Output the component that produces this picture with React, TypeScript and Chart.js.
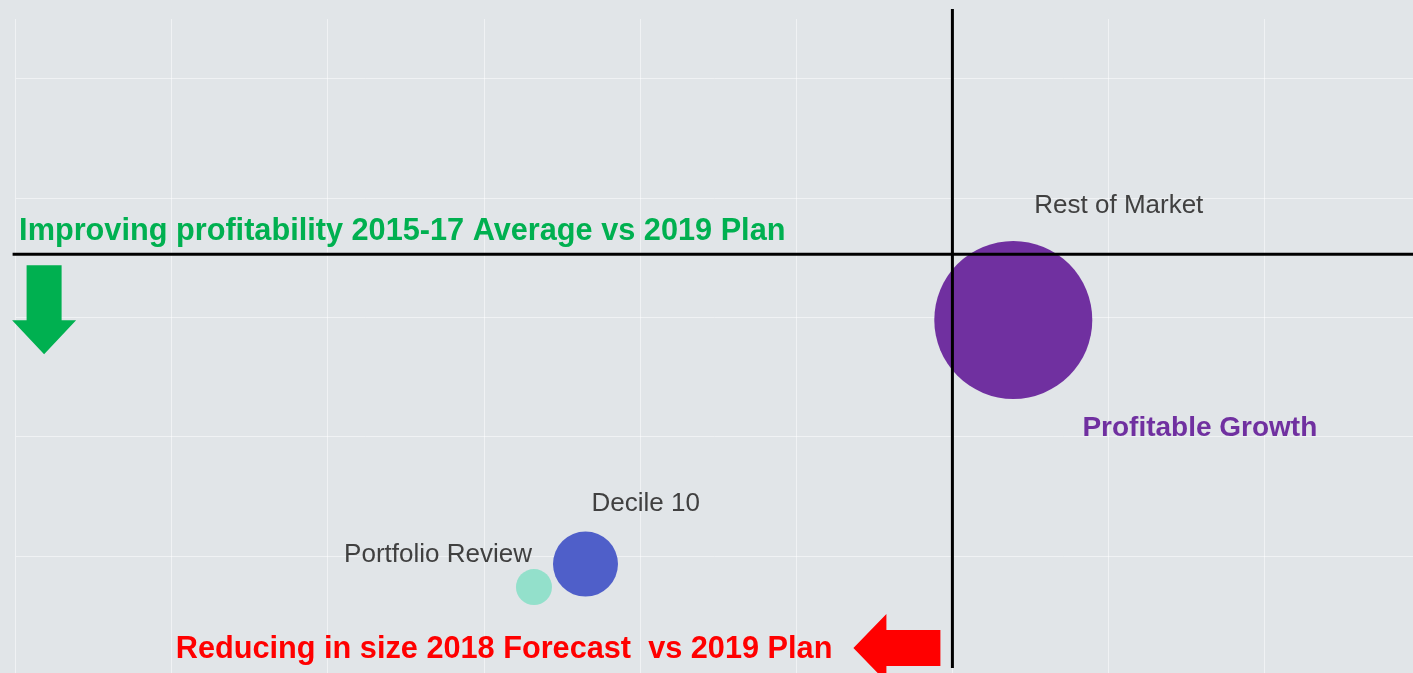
import React, { useEffect, useRef } from "react";
import { Chart, registerables } from "chart.js";

Chart.register(...registerables);

// ---- data ----
const seriesNames = ["Rest of Market", "Decile 10", "Portfolio Review"];
const sizeChange = [0.39, -2.35, -2.68]; // x: reducing in size (2018 Forecast vs 2019 Plan)
const profitChange = [-0.52, -2.565, -2.757]; // y: improving profitability (2015-17 Avg vs 2019 Plan)
const bubbleRadius = [79, 32.5, 18];
const seriesColors = ["#7030a0", "#4f5fc9", "#93e0cb"];

const xTickValues = [-6, -5, -4, -3, -2, -1, 0, 1, 2];
const yTickValues = [1.5, 0.5, -0.5, -1.5, -2.5];
const xRange = [-6, 2.95];
const yRange = [-3.477, 2.0];
const crossX = 0;
const crossY = 0.03;

const profitHeadline = "Improving profitability 2015-17 Average vs 2019 Plan";
const sizeHeadline = "Reducing in size 2018 Forecast  vs 2019 Plan";
const quadrantLabel = "Profitable Growth";

// label placement relative to each bubble: [dx, extra gap above bubble, align]
const labelPlacement: [number, number, CanvasTextAlign][] = [
  [21, 28, "left"],
  [6, 21, "left"],
  [-2, 7, "right"],
];

const FONT = "'Liberation Sans', Arial, sans-serif";

const overlayPlugin = {
  id: "overlay",
  beforeDraw(chart: any) {
    const ctx = chart.ctx;
    ctx.save();
    ctx.fillStyle = "#e1e5e8";
    ctx.fillRect(0, 0, chart.width, chart.height);
    ctx.restore();
  },
  afterDatasetsDraw(chart: any) {
    const ctx: CanvasRenderingContext2D = chart.ctx;
    const xs = chart.scales.x;
    const ys = chart.scales.y;
    const area = chart.chartArea;
    const cx = xs.getPixelForValue(crossX);
    const cy = ys.getPixelForValue(crossY);
    ctx.save();

    // quadrant cross lines
    ctx.strokeStyle = "#000000";
    ctx.lineWidth = 3;
    ctx.beginPath();
    ctx.moveTo(area.left - 3, cy);
    ctx.lineTo(chart.width, cy);
    ctx.stroke();
    ctx.beginPath();
    ctx.moveTo(cx, area.top - 10);
    ctx.lineTo(cx, area.bottom - 5);
    ctx.stroke();

    // bubble labels
    ctx.font = `26px ${FONT}`;
    ctx.fillStyle = "#404040";
    ctx.textBaseline = "alphabetic";
    chart.data.datasets.forEach((ds: any, i: number) => {
      const el = chart.getDatasetMeta(i).data[0];
      if (!el) return;
      const [dx, gap, align] = labelPlacement[i];
      const r = ds.data[0].r;
      ctx.textAlign = align;
      ctx.fillText(ds.label, el.x + dx, el.y - r - gap);
    });

    // green headline + down arrow
    ctx.font = `bold 30.7px ${FONT}`;
    ctx.fillStyle = "#00b050";
    ctx.textAlign = "left";
    ctx.fillText(profitHeadline, area.left + 3.5, cy - 14);
    const ax = area.left + 28.5;
    ctx.beginPath();
    ctx.moveTo(ax - 17.5, cy + 11);
    ctx.lineTo(ax + 17.5, cy + 11);
    ctx.lineTo(ax + 17.5, cy + 66);
    ctx.lineTo(ax + 32, cy + 66);
    ctx.lineTo(ax, cy + 100);
    ctx.lineTo(ax - 32, cy + 66);
    ctx.lineTo(ax - 17.5, cy + 66);
    ctx.closePath();
    ctx.fill();

    // red headline + left arrow
    const ry = area.bottom - 25;
    ctx.fillStyle = "#ff0000";
    ctx.textAlign = "right";
    ctx.fillText(sizeHeadline, cx - 120, area.bottom - 15);
    ctx.beginPath();
    ctx.moveTo(cx - 12, ry - 18);
    ctx.lineTo(cx - 12, ry + 18);
    ctx.lineTo(cx - 66, ry + 18);
    ctx.lineTo(cx - 66, ry + 34);
    ctx.lineTo(cx - 99, ry);
    ctx.lineTo(cx - 66, ry - 34);
    ctx.lineTo(cx - 66, ry - 18);
    ctx.closePath();
    ctx.fill();

    // quadrant label
    ctx.font = `bold 28px ${FONT}`;
    ctx.fillStyle = "#7030a0";
    ctx.textAlign = "left";
    ctx.fillText(quadrantLabel, cx + 130, cy + 182);

    ctx.restore();
  },
};

export default function App() {
  const ref = useRef<HTMLCanvasElement>(null);

  useEffect(() => {
    document.body.style.margin = "0";
    const canvas = ref.current;
    if (!canvas) return;
    const chart = new Chart(canvas, {
      type: "bubble",
      data: {
        datasets: seriesNames.map((name, i) => ({
          label: name,
          data: [{ x: sizeChange[i], y: profitChange[i], r: bubbleRadius[i] }],
          backgroundColor: seriesColors[i],
          borderWidth: 0,
          hoverRadius: 0,
        })),
      },
      options: {
        animation: false,
        responsive: false,
        devicePixelRatio: 1,
        layout: { autoPadding: false, padding: { left: 15.6, top: 19, right: 0, bottom: 0 } },
        plugins: { legend: { display: false }, tooltip: { enabled: false } },
        scales: {
          x: {
            type: "linear",
            min: xRange[0],
            max: xRange[1],
            border: { display: false },
            grid: { color: "rgba(255,255,255,0.5)", lineWidth: 1, drawTicks: false },
            ticks: { display: false },
            afterBuildTicks: (s: any) => {
              s.ticks = xTickValues.map((v) => ({ value: v }));
            },
            afterFit: (s: any) => {
              s.height = 0;
            },
          },
          y: {
            type: "linear",
            min: yRange[0],
            max: yRange[1],
            border: { display: false },
            grid: { color: "rgba(255,255,255,0.5)", lineWidth: 1, drawTicks: false },
            ticks: { display: false },
            afterBuildTicks: (s: any) => {
              s.ticks = yTickValues.map((v) => ({ value: v }));
            },
            afterFit: (s: any) => {
              s.width = 0;
            },
          },
        },
      } as any,
      plugins: [overlayPlugin],
    });
    return () => chart.destroy();
  }, []);

  return (
    <div style={{ position: "absolute", left: 0, top: 0, width: 1413, height: 673 }}>
      <canvas ref={ref} width={1413} height={673} style={{ display: "block", width: 1413, height: 673 }} />
    </div>
  );
}
